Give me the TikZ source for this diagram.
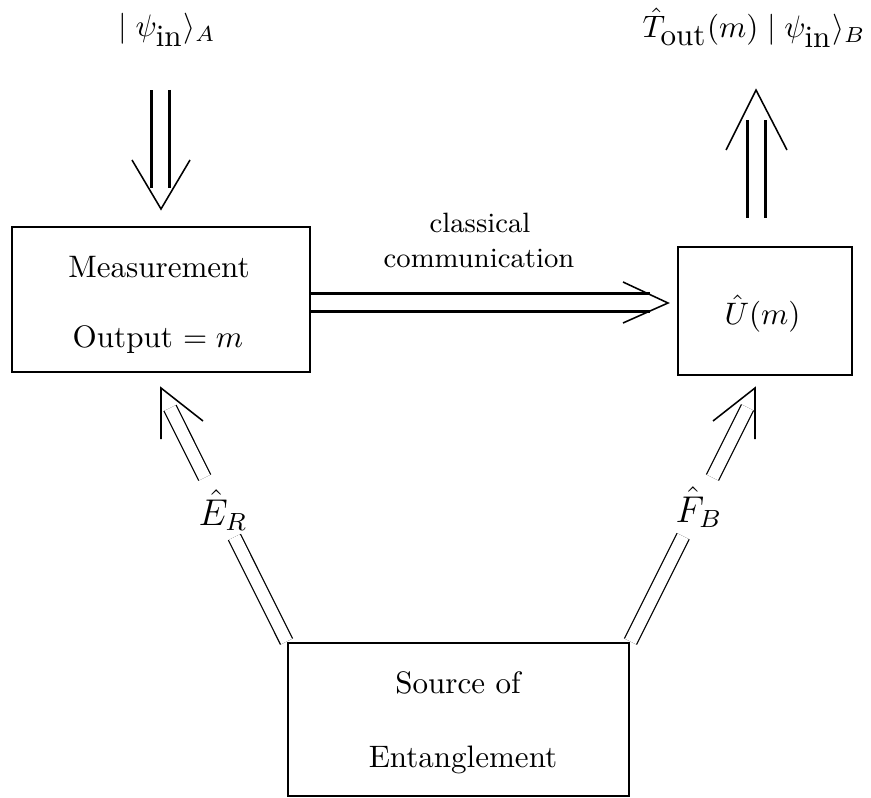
\documentclass[tikz,border=0pt]{standalone}
\usetikzlibrary{calc}
\begin{document}
\begin{tikzpicture}[x=0.322pt,y=-0.322pt,
  box/.style={draw,line width=0.95pt,rectangle,inner sep=0pt},
  txt/.style={anchor=base,inner sep=0pt},
  lbl/.style={anchor=base west,inner sep=0pt,font=\large},
  thk/.style={draw,double,line width=0.9pt,double distance=4.65pt},
  thn/.style={draw,double,line width=0.4pt,double distance=3.9pt},
  head/.style={draw,line width=0.5pt,line join=miter}]
\useasboundingbox (0,0) rectangle (871,798);
% boxes
\node[box,minimum width=95.96pt,minimum height=46.69pt] (meas) at (161,299.5) {};
\node[box,minimum width=56.03pt,minimum height=41.22pt] (unit) at (765,311) {};
\node[box,minimum width=109.8pt,minimum height=49.27pt] (src) at (458.5,719.5) {};
% box texts
\node[txt] (m1) at (159,278) {Measurement};
\node[txt] (m2) at (158,347) {Output $=m$};
\node[txt] (u1) at (762.5,324) {$\hat U(m)$};
\node[txt] (s1) at (458,693) {Source of};
\node[txt] (s2) at (463,767) {Entanglement};
\node[txt,font=\small] (c1) at (480,233) {classical};
\node[txt,font=\small] (c2) at (479,267) {communication};
% top labels
\node[txt] (inA) at (167,37) {$\mid\psi_{\mbox{in}}\rangle_A$};
\node[txt] (outB) at (754,37.5) {$\hat T_{\mbox{out}}(m)\mid\psi_{\mbox{in}}\rangle_B$};
% top-left arrow
\coordinate (tlA) at (160.5,90);
\coordinate (tlB) at (160.5,188);
\coordinate (tlT) at (161,209);
\path[thk] (tlA) -- (tlB);
\path[head] ($(tlT)+(-29,-49)$) -- (tlT) -- ($(tlT)+(29,-49)$);
% top-right arrow
\coordinate (trA) at (756.5,218);
\coordinate (trB) at (756.5,120);
\coordinate (trT) at (756,90);
\path[thk] (trA) -- (trB);
\path[head] ($(trT)+(-30,60)$) -- (trT) -- ($(trT)+(31,60)$);
% horizontal arrow
\coordinate (hA) at ($(meas.east)+(0,3)$);
\coordinate (hB) at (650,302.5);
\coordinate (hT) at (668,303);
\path[thk] (hA) -- (hB);
\path[head] ($(hT)+(-45,-21)$) -- (hT) -- ($(hT)+(-45,20)$);
% left diagonal
\coordinate (L1) at (170,408);
\coordinate (LT) at (161,388);
\path[thn] (src.north west) -- ($(src.north west)!0.447!(L1)$);
\path[thn] ($(src.north west)!0.702!(L1)$) -- (L1);
\path[head] ($(LT)+(0,51)$) -- (LT) -- ($(LT)+(42,33)$);
\node[lbl] (ER) at (198,525) {$\hat E_R$};
% right diagonal
\coordinate (R1) at (747.5,407.5);
\coordinate (RT) at (755,388);
\path[thn] (src.north east) -- ($(src.north east)!0.450!(R1)$);
\path[thn] ($(src.north east)!0.7006!(R1)$) -- (R1);
\path[head] ($(RT)+(0,51)$) -- (RT) -- ($(RT)+(-42,33)$);
\node[lbl] (FB) at (675,522) {$\hat F_B$};
\end{tikzpicture}
\end{document}
